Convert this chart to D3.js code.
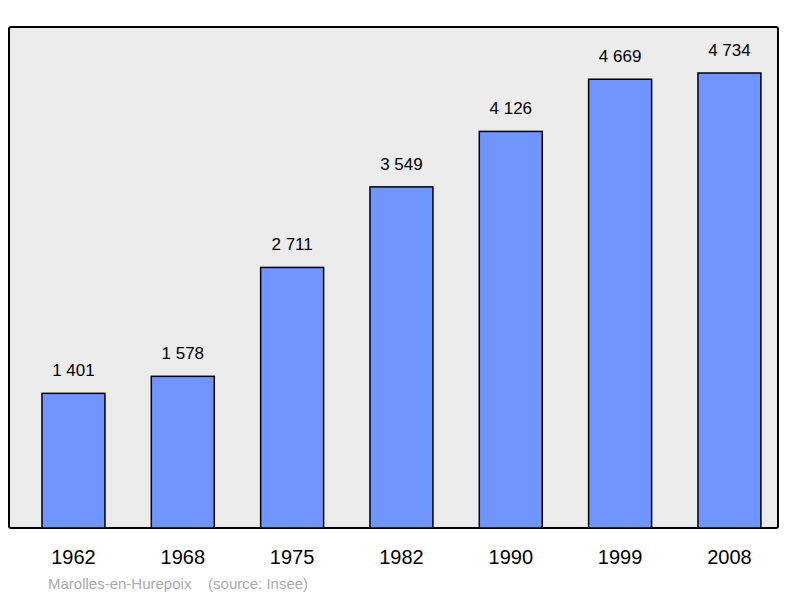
<!DOCTYPE html>
<html>
<head>
<meta charset="utf-8">
<script src="https://cdn.jsdelivr.net/npm/d3@7"></script>
<style>body{margin:0;background:#fff}text{font-family:"Liberation Sans",Arial,sans-serif}</style>
</head>
<body>
<svg id="chart" width="800" height="598"></svg>
<script>
const years = ['1962', '1968', '1975', '1982', '1990', '1999', '2008'];
const population = [1401, 1578, 2711, 3549, 4126, 4669, 4734];
const labels = ['1 401', '1 578', '2 711', '3 549', '4 126', '4 669', '4 734'];

const svg = d3.select('#chart');
const base = 528;

const x = d3.scaleBand().domain(years).range([18.8, 784.1])
  .paddingInner(0.424).paddingOuter(0.212);
const y = d3.scaleLinear().domain([0, 4734]).range([base, 73]);

svg.append('rect')
  .attr('x', 9).attr('y', 27).attr('width', 769).attr('height', 501)
  .attr('rx', 2).attr('fill', '#ebebeb').attr('stroke', '#000').attr('stroke-width', 2);

svg.selectAll('rect.bar').data(population).join('rect')
  .attr('class', 'bar')
  .attr('x', (d, i) => x(years[i]))
  .attr('y', d => y(d))
  .attr('width', x.bandwidth())
  .attr('height', d => base - y(d))
  .attr('fill', '#7195ff').attr('stroke', '#000').attr('stroke-width', 1.5);

svg.selectAll('text.val').data(population).join('text')
  .attr('class', 'val')
  .attr('x', (d, i) => x(years[i]) + x.bandwidth() / 2)
  .attr('y', d => y(d) - 17)
  .attr('text-anchor', 'middle').attr('font-size', 17)
  .text((d, i) => labels[i]);

svg.selectAll('text.year').data(years).join('text')
  .attr('class', 'year')
  .attr('x', d => x(d) + x.bandwidth() / 2)
  .attr('y', 564)
  .attr('text-anchor', 'middle').attr('font-size', 20)
  .text(d => d);

svg.append('text').attr('x', 48).attr('y', 589)
  .attr('font-size', 15).attr('fill', '#aaa').attr('xml:space', 'preserve')
  .text('Marolles-en-Hurepoix    (source: Insee)');
</script>
</body>
</html>
